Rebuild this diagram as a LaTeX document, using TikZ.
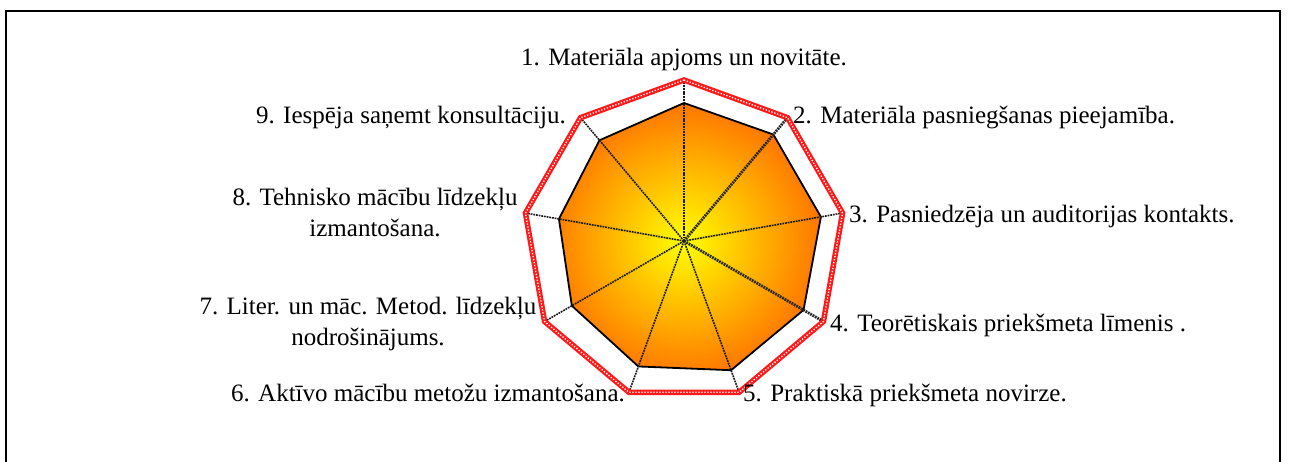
\documentclass[tikz,border=0pt]{standalone}
\usepackage{fontspec}
\setmainfont{Liberation Serif}
\definecolor{radorange}{RGB}{255,105,0}
\definecolor{radred}{RGB}{255,25,25}
\begin{document}
\begin{tikzpicture}[x=1pt,y=1pt,
  lbl/.style={font=\fontsize{25}{31}\selectfont, inner sep=0pt},
  axisline/.style={draw=black!90, line width=1.6pt, dash pattern=on 1.8pt off 0.9pt},
  axisthick/.style={draw=black!85, line width=2.8pt, dash pattern=on 1.8pt off 0.9pt},
  datapoly/.style={draw=black, line width=1.8pt, line join=miter},
  maxpoly/.style={draw=radred, line width=5.5pt, line join=miter},
  maxdots/.style={draw=white, line width=1.3pt, dash pattern=on 1.3pt off 1.7pt, line join=miter},
  frame/.style={draw=black, line width=2pt}]
\useasboundingbox (0,0) rectangle (1289,-461);
\draw[frame] (5.5,-480) -- (5.5,-11) -- (1279.5,-11) -- (1279.5,-480);
\coordinate (C) at (684,-241);
\foreach \k in {0,...,8} \path (C) ++({90-40*\k}:161) coordinate (o\k);
\foreach \k/\r in {0/138,1/139,2/139,3/138,4/137.5,5/133.5,6/129.5,7/127,8/131.5}
  \path (C) ++({90-40*\k}:\r) coordinate (d\k);
\begin{scope}
  \clip (d0)--(d1)--(d2)--(d3)--(d4)--(d5)--(d6)--(d7)--(d8)--cycle;
  \shade[inner color=yellow, outer color=radorange] (C) circle (150);
\end{scope}
\draw[datapoly] (d0)--(d1)--(d2)--(d3)--(d4)--(d5)--(d6)--(d7)--(d8)--cycle;
\foreach \k in {0,2,4,5,6,7,8} \draw[axisline] (C) -- (o\k);
\foreach \k in {1,3} \draw[axisthick] (C) -- (o\k);
\draw[maxpoly] (o0)--(o1)--(o2)--(o3)--(o4)--(o5)--(o6)--(o7)--(o8)--cycle;
\draw[maxdots] (o0)--(o1)--(o2)--(o3)--(o4)--(o5)--(o6)--(o7)--(o8)--cycle;
\node[lbl, anchor=base] (l1) at (684,-65) {1. Materiāla apjoms un novitāte.};
\node[lbl, anchor=base west] (l2) at (793,-123) {2. Materiāla pasniegšanas pieejamība.};
\node[lbl, anchor=base west] (l3) at (849,-222) {3. Pasniedzēja un auditorijas kontakts.};
\node[lbl, anchor=base west] (l4) at (830,-331) {4. Teorētiskais priekšmeta līmenis .};
\node[lbl, anchor=base west] (l5) at (743,-401) {5. Praktiskā priekšmeta novirze.};
\node[lbl, anchor=base east] (l6) at (625,-401) {6. Aktīvo mācību metožu izmantošana.};
\node[lbl, align=center] (l7) at (368,-324) {7. Liter. un māc. Metod. līdzekļu\\nodrošinājums.};
\node[lbl, align=center] (l8) at (375,-212) {8. Tehnisko mācību līdzekļu\\izmantošana.};
\node[lbl, anchor=base east] (l9) at (566,-123) {9. Iespēja saņemt konsultāciju.};
\end{tikzpicture}
\end{document}
